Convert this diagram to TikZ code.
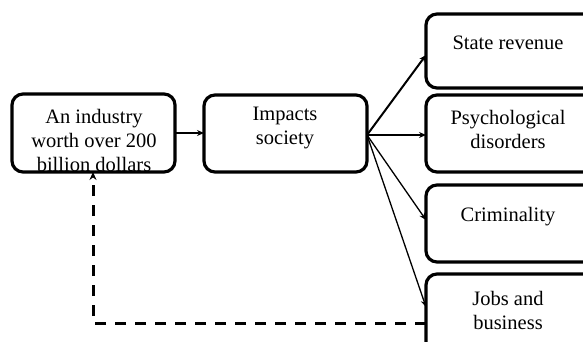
\documentclass[tikz,border=0pt]{standalone}
\usepackage{fontspec}
\setmainfont{Liberation Serif}
\usetikzlibrary{arrows.meta}
\begin{document}
\begin{tikzpicture}[x=1pt,y=-1pt,
  box/.style={draw,line width=3.2pt,rounded corners=11pt},
  lbl/.style={font=\fontsize{20.5}{24}\selectfont,align=center,inner sep=0pt},
  conn/.style={line width=2pt,-{Stealth[length=7pt,width=6pt]}},
  thinarrow/.style={line width=1.3pt,-{Stealth[length=7pt,width=6pt]}},
  dashline/.style={line width=3pt,dash pattern=on 11pt off 9pt,-{Stealth[length=8pt,width=7pt]}}]
\useasboundingbox (0,0) rectangle (583,342);
\draw[box] (12,94) rectangle (175,172);
\coordinate (b1e) at (175,133);
\coordinate (b1s) at (93,172);
\node[lbl] (t1) at (94,140) {An industry\\worth over 200\\billion dollars};
\draw[box] (204,95) rectangle (367,172);
\coordinate (b2w) at (204,133);
\coordinate (b2e) at (367,135);
\node[lbl] (t2) at (285,128) {Impacts\\society};
\draw[box] (426,14) rectangle (600,88);
\coordinate (b3w) at (426,55);
\node[lbl] (t3) at (508,43) {State revenue};
\draw[box] (426,95) rectangle (600,172);
\coordinate (b4w) at (426,135);
\node[lbl] (t4) at (508,129) {Psychological\\disorders};
\draw[box] (426,185) rectangle (600,262);
\coordinate (b5w) at (426,220);
\node[lbl] (t5) at (508,217) {Criminality};
\draw[box] (426,274) rectangle (600,360);
\coordinate (b6w) at (426,307);
\coordinate (b6d) at (426,323);
\node[lbl] (t6) at (508,310) {Jobs and\\business};
\draw[conn] (b1e) -- (b2w);
\draw[conn] (b2e) -- (b3w);
\draw[conn] (b2e) -- (b4w);
\draw[thinarrow] (b2e) -- (b5w);
\draw[thinarrow] (b2e) -- (b6w);
\draw[dashline] (b6d) -| (b1s);
\end{tikzpicture}
\end{document}
